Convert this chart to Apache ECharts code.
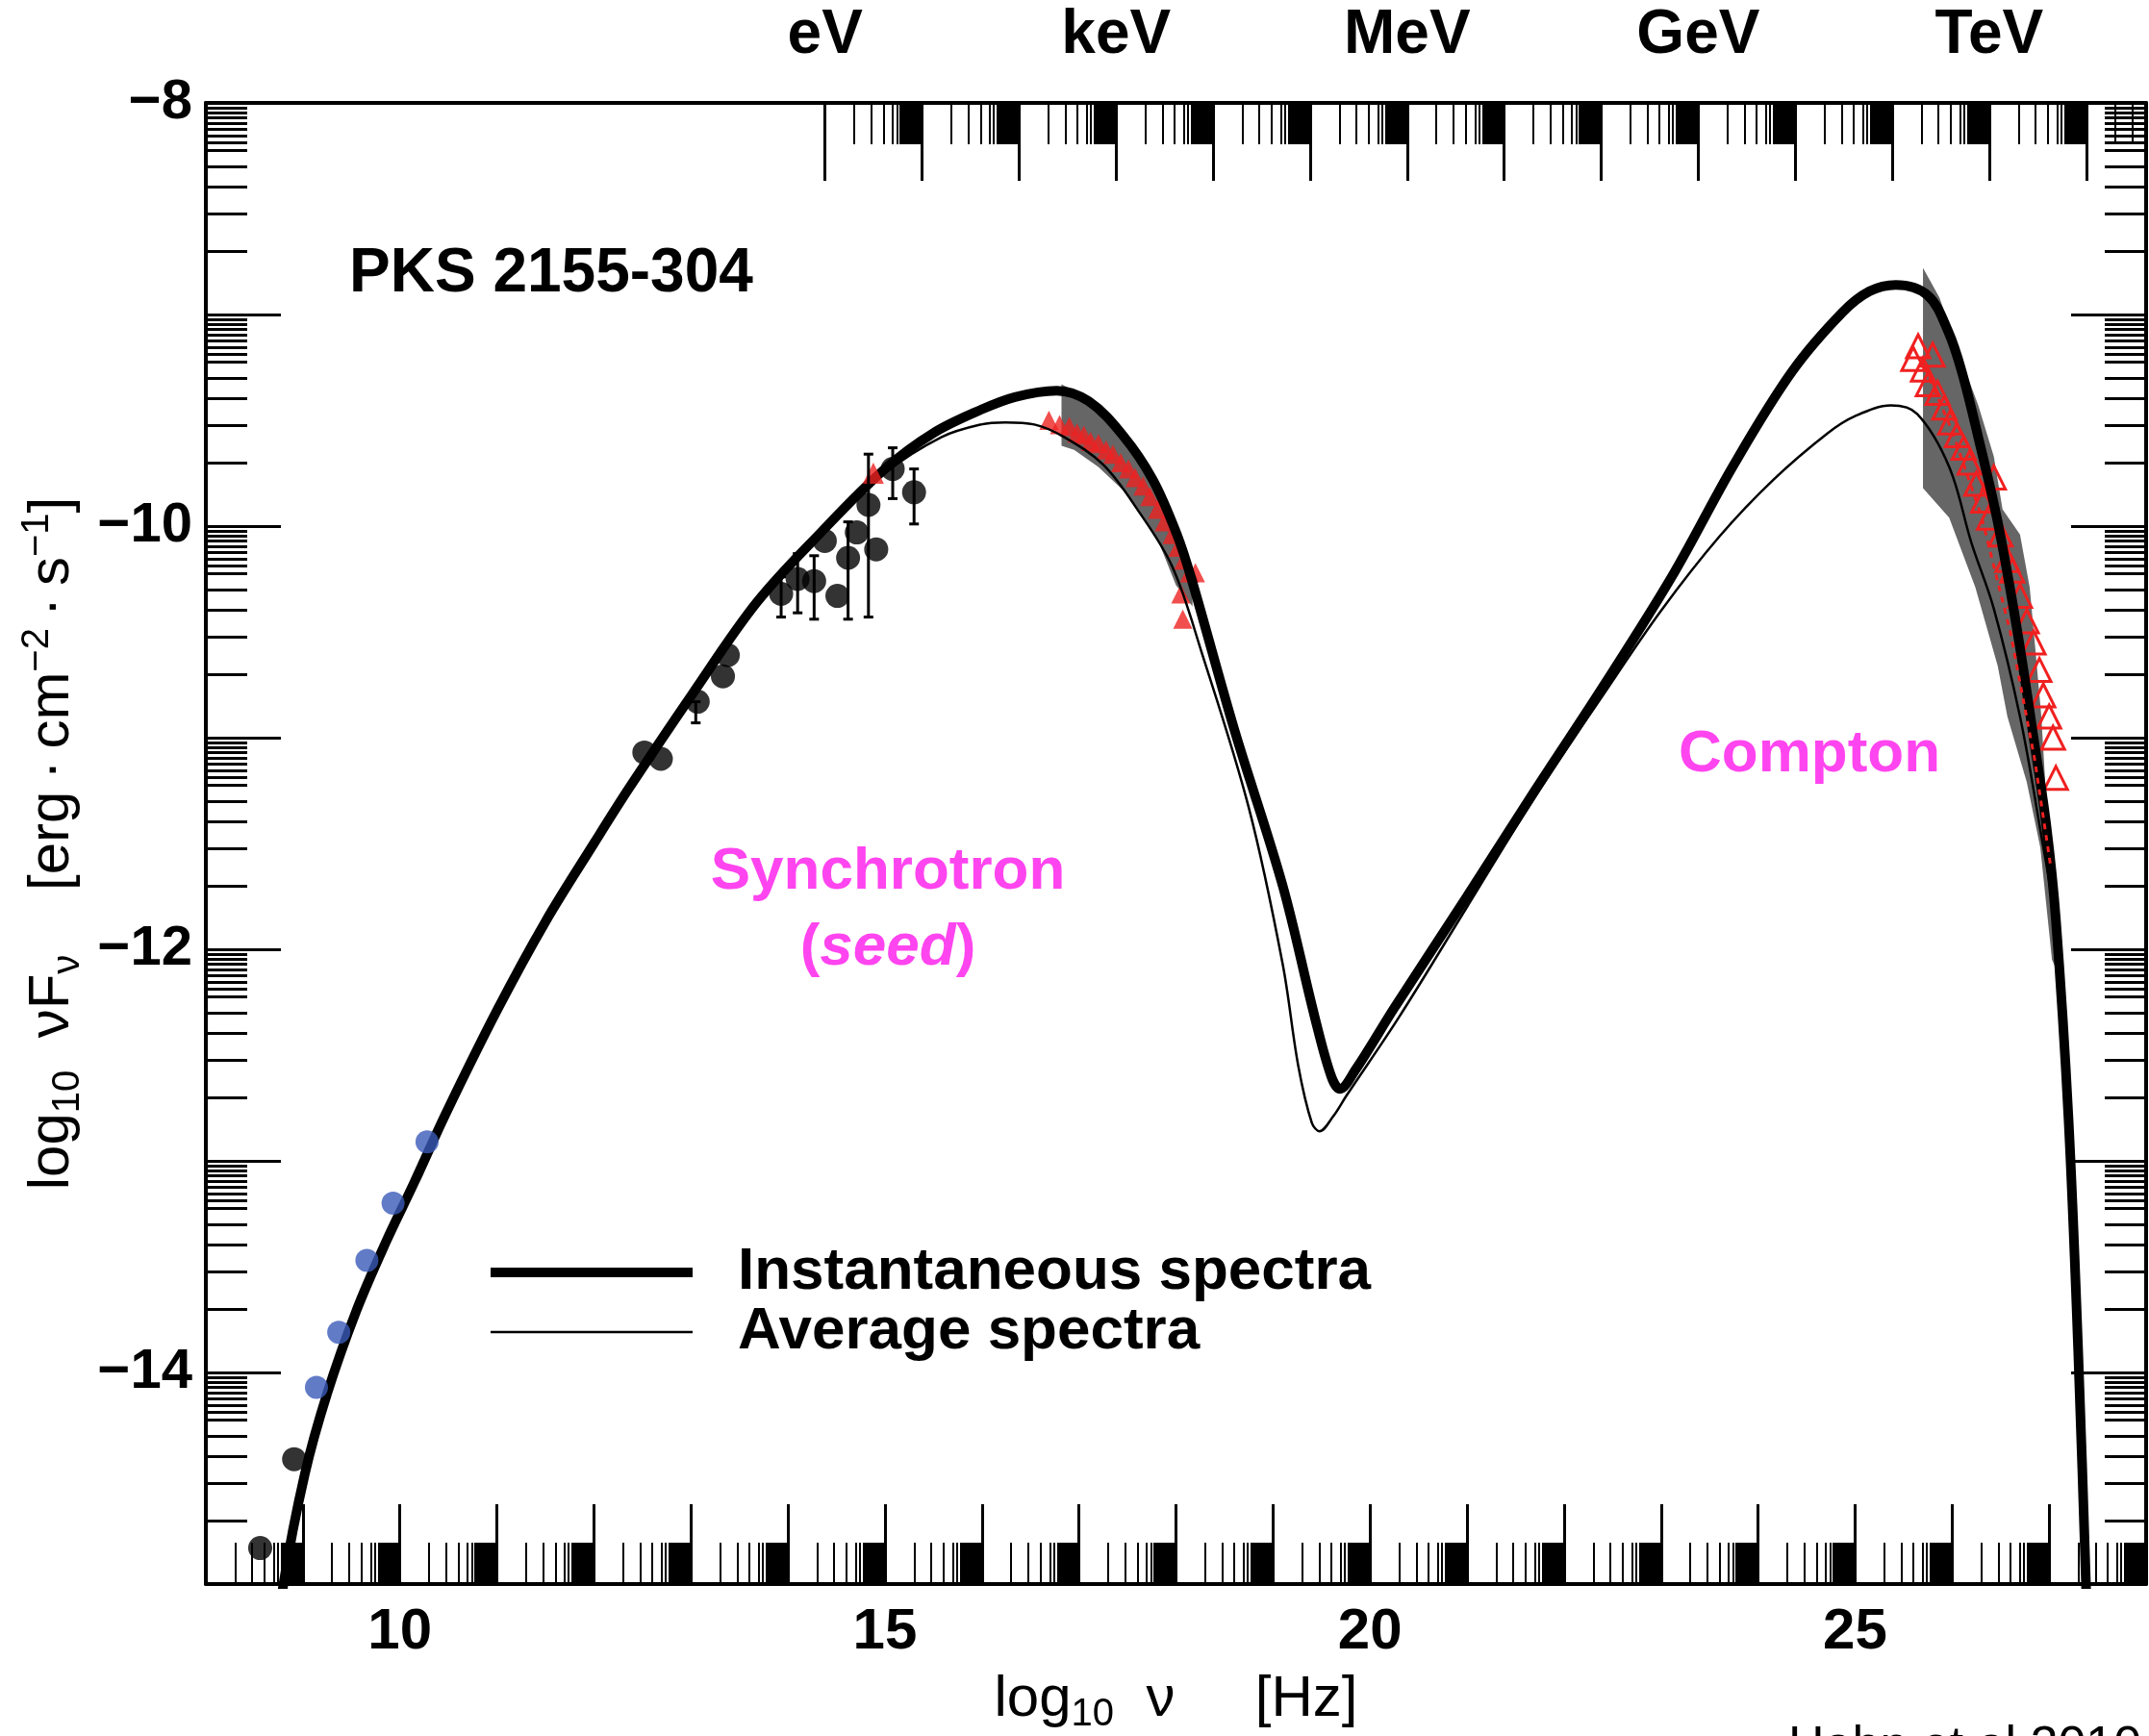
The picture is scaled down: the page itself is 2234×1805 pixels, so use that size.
<!DOCTYPE html>
<html lang="en">
<head>
<meta charset="utf-8">
<title>PKS 2155-304 SED</title>
<script src="https://cdn.jsdelivr.net/npm/echarts@6/dist/echarts.min.js"></script>
<style>
  html, body { margin: 0; padding: 0; background: #fff; }
  #chart { width: 2234px; height: 1805px; }
</style>
</head>
<body>
<div id="chart"></div>
<script>
// axis ranges and tick labels
var xMin = 8, xMax = 28, yMin = -15, yMax = -8;
var xLabels = [10, 15, 20, 25];
var yLabels = [-14, -12, -10, -8];
var energyNames = ['eV', 'keV', 'MeV', 'GeV', 'TeV'];
var eVlog = 14.383; // log10(nu) of 1 eV

// model curves [log nu, log nuFnu]
var thickCurve = [
  [8.74, -15.3], [8.80, -15.0], [9.02, -14.48], [9.25, -14.10], [9.55, -13.71], [9.85, -13.39],
  [10.15, -13.10], [10.47, -12.78], [11.0, -12.29], [11.5, -11.87], [12.0, -11.50], [12.36, -11.24],
  [13.02, -10.79], [13.68, -10.36], [14.34, -10.03], [15.0, -9.73], [15.5, -9.56], [15.99, -9.45],
  [16.34, -9.39], [16.77, -9.36], [17.10, -9.41], [17.45, -9.57], [17.76, -9.78], [18.01, -10.04],
  [18.16, -10.25], [18.6, -10.96], [19.10, -11.70], [19.43, -12.32], [19.60, -12.60], [19.69, -12.66],
  [19.85, -12.57], [20.26, -12.27], [21.0, -11.75], [21.7, -11.25], [22.4, -10.76], [23.11, -10.24],
  [23.75, -9.71], [24.35, -9.27], [24.87, -8.99], [25.15, -8.89], [25.42, -8.86], [25.75, -8.91],
  [25.96, -9.08], [26.10, -9.27], [26.28, -9.60], [26.47, -9.98], [26.67, -10.49], [26.84, -11.00],
  [26.97, -11.41], [27.07, -11.86], [27.20, -12.80], [27.30, -13.90], [27.38, -15.0], [27.40, -15.3]
];
var thinCurve = [
  [8.74, -15.3], [8.80, -15.0], [9.02, -14.48], [9.25, -14.10], [9.55, -13.71], [9.85, -13.39],
  [10.15, -13.10], [10.47, -12.78], [11.0, -12.29], [11.5, -11.87], [12.0, -11.50], [12.36, -11.24],
  [13.02, -10.79], [13.68, -10.36], [14.34, -10.04], [15.0, -9.75], [15.58, -9.58], [15.99, -9.52],
  [16.24, -9.51], [16.54, -9.52], [16.85, -9.58], [17.25, -9.71], [17.60, -9.92], [17.96, -10.19],
  [18.26, -10.59], [18.75, -11.33], [19.10, -12.07], [19.26, -12.55], [19.40, -12.82], [19.48, -12.86],
  [19.62, -12.79], [19.76, -12.69], [20.3, -12.32], [21.0, -11.80], [21.7, -11.28], [22.4, -10.80],
  [23.0, -10.40], [23.6, -10.05], [24.16, -9.78], [24.72, -9.56], [25.0, -9.48], [25.37, -9.43],
  [25.64, -9.47], [25.97, -9.72], [26.2, -10.08], [26.43, -10.39], [26.70, -10.90], [26.9, -11.41],
  [27.06, -11.88], [27.20, -12.80], [27.30, -13.90], [27.38, -15.0], [27.40, -15.3]
];

// shaded bands (X-ray and TeV)
var xrayBand = [
  [16.82, -9.33], [17.10, -9.40], [17.45, -9.56], [17.76, -9.77], [18.01, -10.02], [18.17, -10.20],
  [18.17, -10.38], [18.0, -10.28], [17.8, -10.05], [17.5, -9.85], [17.2, -9.72], [16.95, -9.64], [16.82, -9.62]
];
var tevBand = [
  [25.70, -8.78], [25.87, -8.92], [26.10, -9.22], [26.27, -9.43], [26.43, -9.67], [26.52, -9.92],
  [26.70, -10.04], [26.80, -10.29], [26.86, -10.59], [26.92, -10.90], [26.96, -11.21], [27.02, -11.52],
  [27.08, -11.86], [27.08, -12.10], [27.03, -12.05], [26.91, -11.52], [26.77, -11.21], [26.57, -10.90],
  [26.47, -10.66], [26.24, -10.29], [25.97, -9.96], [25.70, -9.82]
];

// measurements
var opticalPts = [
  [12.52, -11.07], [12.69, -11.10], [13.07, -10.83], [13.33, -10.71], [13.38, -10.61], [13.93, -10.32],
  [14.10, -10.25], [14.27, -10.26], [14.38, -10.07], [14.51, -10.33], [14.62, -10.15], [14.71, -10.03],
  [14.83, -9.90], [14.91, -10.11], [15.08, -9.73], [15.30, -9.84], [8.56, -14.83], [8.91, -14.41]
];
var opticalErr = [
  [13.05, -10.93, -10.83], [13.93, -10.43, -10.24], [14.10, -10.41, -10.13], [14.27, -10.44, -10.14],
  [14.62, -10.44, -9.98], [14.83, -10.43, -9.66], [15.08, -9.87, -9.63], [15.30, -9.99, -9.73]
];
var radioBlue = [[9.14, -14.07], [9.37, -13.81], [9.66, -13.47], [9.93, -13.20], [10.28, -12.91]];
var opticalRed = [[14.88, -9.75]];
var xrayTri = [
  [16.69, -9.50], [16.80, -9.52], [16.90, -9.53], [16.98, -9.56], [17.05, -9.57], [17.12, -9.60],
  [17.20, -9.61], [17.28, -9.64], [17.35, -9.66], [17.43, -9.70], [17.51, -9.73], [17.58, -9.77],
  [17.66, -9.81], [17.73, -9.86], [17.81, -9.92], [17.88, -9.98], [17.96, -10.04], [18.02, -10.10],
  [18.08, -10.16], [18.14, -10.22], [18.20, -10.22], [18.05, -10.32], [18.07, -10.44]
];
var tevTri = [
  [25.60, -9.21], [25.65, -9.15], [25.70, -9.26], [25.75, -9.33], [25.80, -9.19], [25.85, -9.37],
  [25.92, -9.44], [25.98, -9.51], [26.05, -9.57], [26.12, -9.63], [26.18, -9.70], [26.25, -9.80],
  [26.32, -9.88], [26.38, -9.96], [26.43, -9.77], [26.50, -10.04], [26.57, -10.16], [26.62, -10.21],
  [26.70, -10.33], [26.77, -10.45], [26.84, -10.55], [26.90, -10.68], [26.94, -10.80], [27.00, -10.90],
  [27.04, -11.00], [27.07, -11.19]
];
var tevModel = [[25.72, -9.25], [26.0, -9.55], [26.3, -9.95], [26.6, -10.5], [26.85, -11.1], [27.02, -11.62]];

var FONT = '"Liberation Sans", Arial, Helvetica, sans-serif';
var MAGENTA = '#ff45ef';

// log-style tick positions inside each unit
function logTicks(start, end, ks) {
  var out = [];
  for (var n = Math.floor(start); n < end; n++) {
    ks.forEach(function (k) {
      var v = n + Math.log10(k);
      if (v > start && v < end) out.push(v);
    });
  }
  return out;
}
var xKs = [2, 3, 4, 5, 5.5];
for (var k = 6; k < 9.95; k += 0.2) xKs.push(k);
var yKs = [2, 3, 4, 5, 6, 6.5, 7, 7.5, 8, 8.5, 9, 9.5];

var bottomMajor = [], bottomMinor = logTicks(xMin, xMax, xKs);
for (var i = 9; i < 28; i++) bottomMajor.push(i);
var topMajor = [], topMinor = [];
for (var j = 0; eVlog + j < xMax; j++) {
  topMajor.push(eVlog + j);
  xKs.forEach(function (k) {
    var v = eVlog + j + Math.log10(k);
    if (v < xMax) topMinor.push(v);
  });
}
var topLabelPos = energyNames.map(function (n, idx) { return eVlog + 3 * idx; });
var yMajor = [], yMinor = logTicks(yMin, yMax, yKs);
for (var m = -14; m < -8; m++) yMajor.push(m);

var tickLine = { color: '#000', width: 3 };
function tickAxis(dim, pos, vals, len, extra) {
  var a = {
    type: 'value', min: dim === 'x' ? xMin : yMin, max: dim === 'x' ? xMax : yMax, position: pos,
    axisLine: { show: false, onZero: false },
    axisTick: { show: true, inside: true, length: len, customValues: vals, lineStyle: tickLine },
    axisLabel: { show: false },
    splitLine: { show: false }
  };
  return Object.assign(a, extra || {});
}
var mainLine = { show: true, onZero: false, lineStyle: { color: '#000', width: 4 } };

var xName = '{t|log}{s|10}{t|  \u03bd     [Hz]}';
var yName = '{t|log}{s|10}{t|  \u03bdF}{s|\u03bd}{t|    [erg\u2009\u00b7\u2009cm}{p|\u22122}{t|\u2009\u00b7\u2009s}{p|\u22121}{t|]}';
var nameRich = {
  t: { fontSize: 60, fontFamily: FONT, color: '#000', lineHeight: 72, verticalAlign: 'middle' },
  s: { fontSize: 40, fontFamily: FONT, color: '#000', lineHeight: 40, verticalAlign: 'bottom' },
  p: { fontSize: 40, fontFamily: FONT, color: '#000', lineHeight: 40, verticalAlign: 'top' }
};

function bandSeries(points) {
  return {
    type: 'custom', silent: true, z: 1, data: [[points[0][0], points[0][1]]],
    renderItem: function (params, api) {
      return {
        type: 'polygon',
        shape: { points: points.map(function (p) { return api.coord(p); }) },
        style: { fill: '#666666' }
      };
    }
  };
}

var chart = echarts.init(document.getElementById('chart'));
chart.setOption({
  animation: false,
  backgroundColor: '#fff',
  textStyle: { fontFamily: FONT },
  grid: { left: 214, right: 3, top: 107, bottom: 158, containLabel: false, outerBoundsMode: 'none' },
  legend: {
    orient: 'vertical', left: 500, top: 1287, itemWidth: 210, itemHeight: 20, itemGap: 0,
    selectedMode: false,
    lineStyle: { width: 'inherit' },
    itemStyle: { opacity: 0 },
    data: [
      { name: 'Instantaneous spectra', lineStyle: { width: 10 } },
      { name: 'Average spectra', lineStyle: { width: 2.5 } }
    ],
    textStyle: { fontSize: 62, fontWeight: 'bold', color: '#000', lineHeight: 61, padding: [0, 0, 0, 42], fontFamily: FONT }
  },
  xAxis: [
    tickAxis('x', 'bottom', bottomMajor, 83, {
      axisLine: mainLine,
      axisLabel: {
        show: true, customValues: xLabels, margin: 20, fontSize: 60, fontWeight: 'bold', color: '#000', fontFamily: FONT
      },
      name: xName, nameLocation: 'middle', nameGap: 84,
      nameTextStyle: { rich: nameRich }
    }),
    tickAxis('x', 'bottom', bottomMinor, 43, { axisTick: { show: true, inside: true, length: 43, customValues: bottomMinor, lineStyle: { color: '#000', width: 2 } } }),
    tickAxis('x', 'top', topMajor, 81, {
      axisLine: mainLine,
      axisLabel: {
        show: true, customValues: topLabelPos, margin: 38, fontSize: 64, fontWeight: 'bold', color: '#000', fontFamily: FONT,
        formatter: function (v) { return energyNames[Math.round((v - eVlog) / 3)]; }
      }
    }),
    tickAxis('x', 'top', topMinor, 43, { axisTick: { show: true, inside: true, length: 43, customValues: topMinor, lineStyle: { color: '#000', width: 2 } } })
  ],
  yAxis: [
    tickAxis('y', 'left', yMajor, 78, {
      axisLine: mainLine,
      axisLabel: {
        show: true, customValues: yLabels, margin: 14, fontSize: 58, fontWeight: 'bold', color: '#000', fontFamily: FONT,
        formatter: function (v) { return '\u2212' + Math.abs(v); }
      },
      name: yName, nameLocation: 'middle', nameGap: 116, nameRotate: 90,
      nameTextStyle: { rich: nameRich }
    }),
    tickAxis('y', 'left', yMinor, 43),
    tickAxis('y', 'right', yMajor, 78, { axisLine: mainLine }),
    tickAxis('y', 'right', yMinor, 43)
  ],
  graphic: [
    { type: 'text', x: 363, y: 285, z: 100,
      style: { text: 'PKS 2155-304', font: 'bold 64px ' + FONT, fill: '#000', textVerticalAlign: 'middle', verticalAlign: 'middle' } },
    { type: 'text', x: 923, y: 907, z: 100,
      style: { text: 'Synchrotron', font: 'bold 62px ' + FONT, fill: MAGENTA, textAlign: 'center', align: 'center', textVerticalAlign: 'middle', verticalAlign: 'middle' } },
    { type: 'text', x: 923, y: 986, z: 100,
      style: {
        text: '{n|(}{i|seed}{n|)}', textAlign: 'center', align: 'center', textVerticalAlign: 'middle', verticalAlign: 'middle',
        rich: {
          n: { fontSize: 62, fontWeight: 'bold', fontFamily: FONT, fill: MAGENTA },
          i: { fontSize: 62, fontWeight: 'bold', fontStyle: 'italic', fontFamily: FONT, fill: MAGENTA }
        }
      } },
    { type: 'text', x: 1881, y: 785, z: 100,
      style: { text: 'Compton', font: 'bold 62px ' + FONT, fill: MAGENTA, textAlign: 'center', align: 'center', textVerticalAlign: 'middle', verticalAlign: 'middle' } },
    { type: 'text', x: 1859, y: 1791, z: 100,
      style: { text: 'Hahn et al 2010', font: '52px ' + FONT, fill: '#000', textVerticalAlign: 'top', verticalAlign: 'top' } }
  ],
  series: [
    bandSeries(xrayBand),
    bandSeries(tevBand),
    {
      type: 'scatter', z: 2, silent: true, data: xrayTri, symbol: 'triangle', symbolSize: 20,
      itemStyle: { color: '#ee2222' }
    },
    {
      type: 'scatter', z: 2, silent: true, data: tevTri, symbol: 'triangle', symbolSize: 24,
      itemStyle: { color: 'rgba(0,0,0,0)', borderColor: '#f02020', borderWidth: 3, opacity: 1 }
    },
    {
      name: 'Average spectra', type: 'line', z: 3, data: thinCurve, symbol: 'none', smooth: 0.35,
      lineStyle: { color: '#000', width: 2.5 }, itemStyle: { color: '#000' }
    },
    {
      name: 'Instantaneous spectra', type: 'line', z: 4, data: thickCurve, symbol: 'none', smooth: 0.35,
      lineStyle: { color: '#000', width: 10 }, itemStyle: { color: '#000' }
    },
    {
      type: 'line', z: 5, data: tevModel, symbol: 'none', silent: true,
      lineStyle: { color: '#f02020', width: 3, type: [6, 6] }
    },
    {
      type: 'custom', z: 6, silent: true, data: opticalErr, encode: { x: 0, y: [1, 2] },
      renderItem: function (params, api) {
        var x = api.value(0);
        var lo = api.coord([x, api.value(1)]);
        var hi = api.coord([x, api.value(2)]);
        var st = { stroke: '#000', lineWidth: 3 };
        return {
          type: 'group', children: [
            { type: 'line', shape: { x1: lo[0], y1: lo[1], x2: hi[0], y2: hi[1] }, style: st },
            { type: 'line', shape: { x1: lo[0] - 5, y1: lo[1], x2: lo[0] + 5, y2: lo[1] }, style: st },
            { type: 'line', shape: { x1: hi[0] - 5, y1: hi[1], x2: hi[0] + 5, y2: hi[1] }, style: st }
          ]
        };
      }
    },
    {
      type: 'scatter', z: 7, silent: true, data: opticalPts, symbol: 'circle', symbolSize: 25,
      itemStyle: { color: '#000' }
    },
    {
      type: 'scatter', z: 7, silent: true, data: radioBlue, symbol: 'circle', symbolSize: 24,
      itemStyle: { color: '#3a5ab8' }
    },
    {
      type: 'scatter', z: 5, silent: true, data: opticalRed, symbol: 'triangle', symbolSize: 22,
      itemStyle: { color: '#ee2222' }
    }
  ]
});
</script>
</body>
</html>
